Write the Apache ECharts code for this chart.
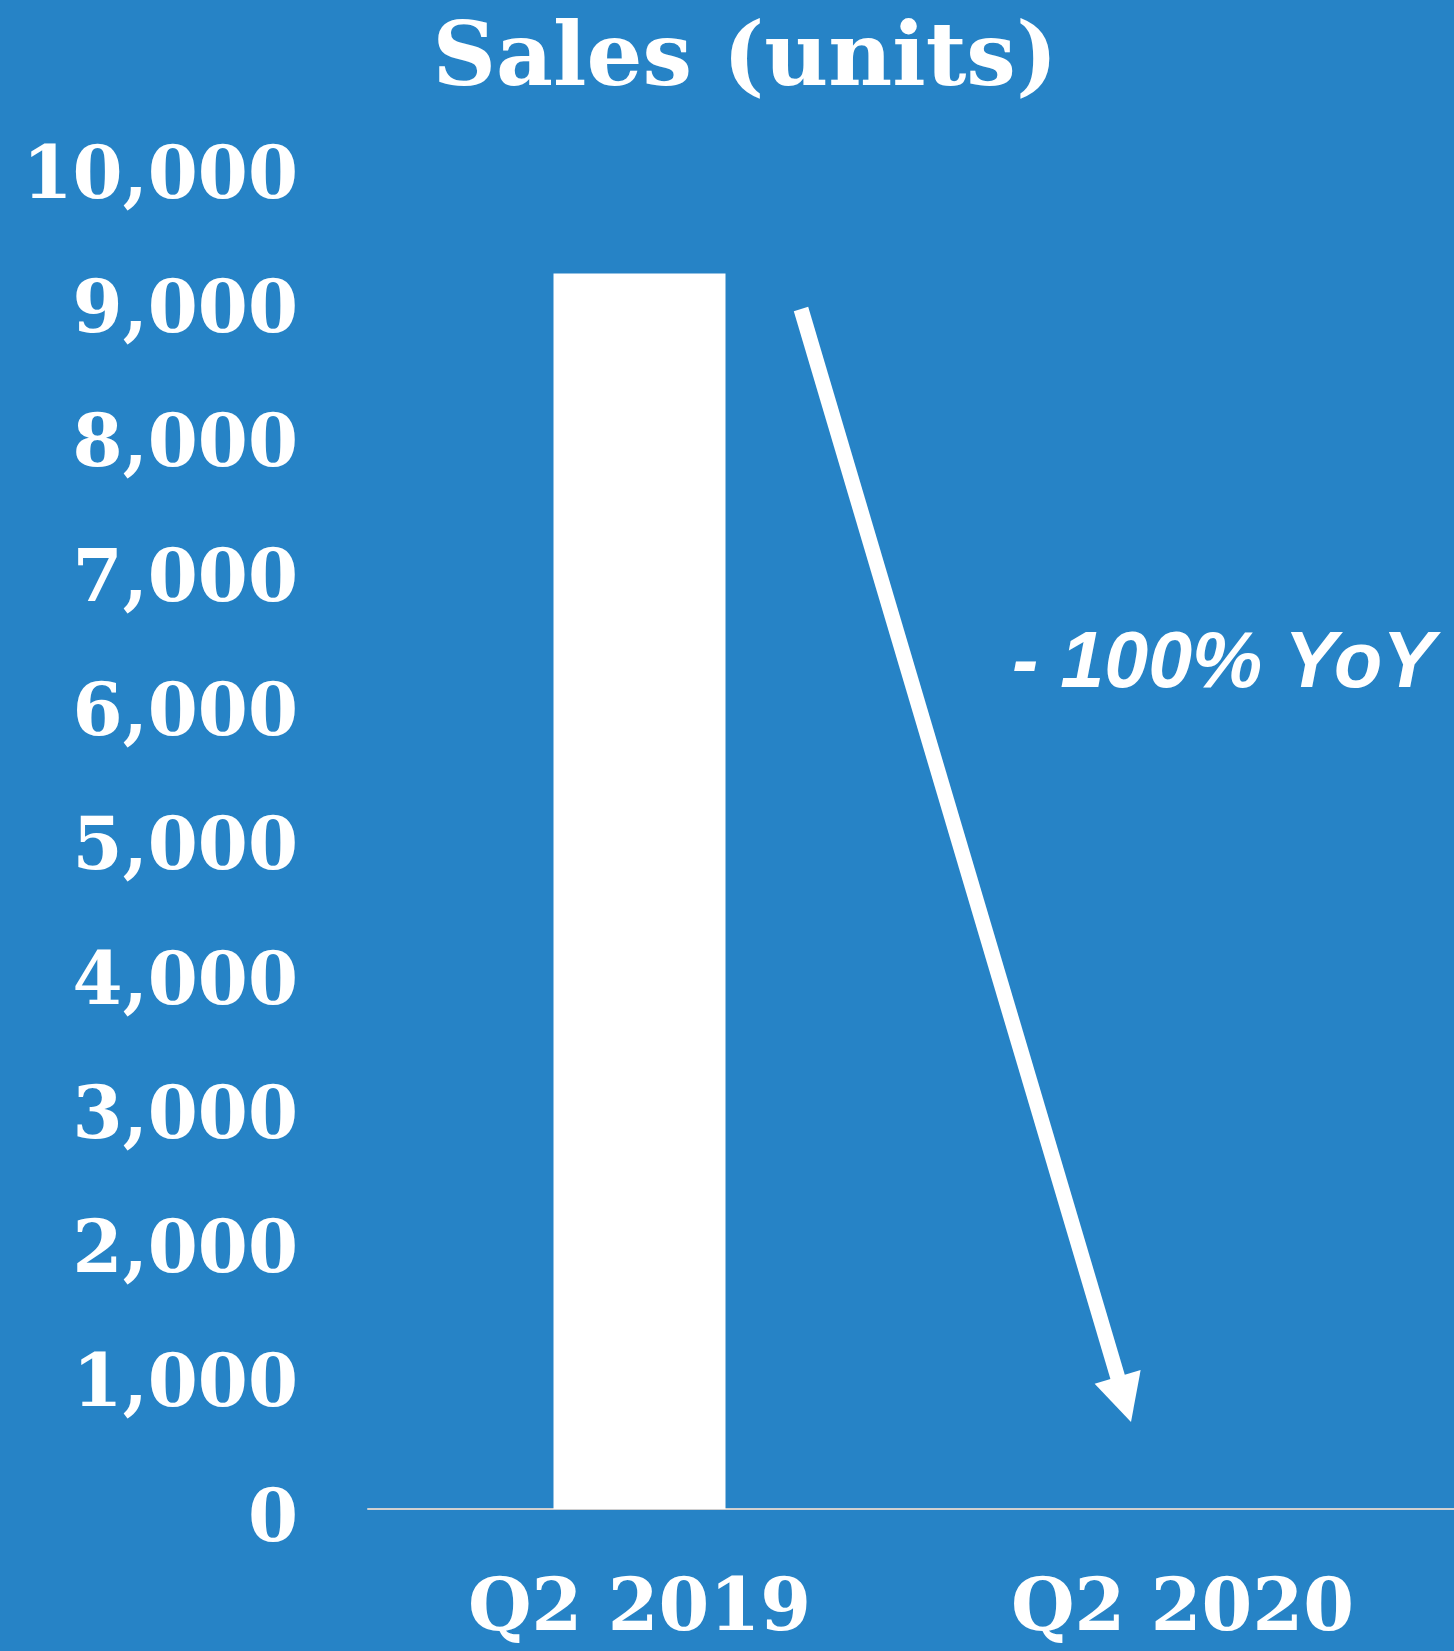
<!DOCTYPE html>
<html>
<head>
<meta charset="utf-8">
<title>Sales (units)</title>
<script src="https://cdn.jsdelivr.net/npm/echarts@6/dist/echarts.min.js"></script>
<style>
  html, body { margin: 0; padding: 0; background: #2683c6; }
  #chart { width: 1454px; height: 1651px; }
</style>
</head>
<body>
<div id="chart"></div>
<script>
// Quarterly unit sales
const categories = ['Q2 2019', 'Q2 2020'];
const sales = [9200, 0];
const yTicks = { min: 0, max: 10000, interval: 1000 };
const titleText = 'Sales (units)';
const changeLabel = '- 100% YoY';

const SERIF = '"DejaVu Serif", "Liberation Serif", serif';
const BG = '#2683c6';

const chart = echarts.init(document.getElementById('chart'), null, { renderer: 'canvas' });

const option = {
  backgroundColor: BG,
  animation: false,
  title: {
    text: titleText,
    left: 740,
    textAlign: 'center',
    top: 13,
    textStyle: { color: '#ffffff', fontFamily: SERIF, fontWeight: 'bold', fontSize: 88 }
  },
  grid: { left: 368, right: 0, top: 166, bottom: 142, containLabel: false },
  xAxis: {
    type: 'category',
    data: categories,
    axisLine: { show: true, lineStyle: { color: '#d0d0d0', width: 2 } },
    axisTick: { show: false },
    axisLabel: {
      color: '#ffffff', fontFamily: SERIF, fontWeight: 'bold', fontSize: 73, margin: 66
    }
  },
  yAxis: {
    type: 'value',
    min: yTicks.min,
    max: yTicks.max,
    interval: yTicks.interval,
    axisLine: { show: false },
    axisTick: { show: false },
    splitLine: { show: false },
    axisLabel: {
      color: '#ffffff', fontFamily: SERIF, fontWeight: 'bold', fontSize: 72, margin: 70,
      verticalAlign: 'top',
      lineHeight: 26,
      formatter: v => v.toLocaleString('en-US')
    }
  },
  series: [{
    type: 'bar',
    data: sales,
    barWidth: 172,
    itemStyle: { color: '#ffffff' }
  }]
};

chart.setOption(option);

// Downward trend arrow and its caption
const start = [801, 309];
const tip = [1131, 1422];
const headLen = 47, headHalf = 24;
const dx = tip[0] - start[0], dy = tip[1] - start[1];
const len = Math.hypot(dx, dy);
const ux = dx / len, uy = dy / len;
const base = [tip[0] - ux * headLen, tip[1] - uy * headLen];
const px = -uy, py = ux;

chart.setOption({
  graphic: [
    {
      type: 'polyline',
      shape: { points: [start, [base[0] + ux * 2, base[1] + uy * 2]] },
      style: { stroke: '#ffffff', lineWidth: 15, lineCap: 'butt', fill: null },
      silent: true
    },
    {
      type: 'polygon',
      shape: {
        points: [
          tip,
          [base[0] + px * headHalf, base[1] + py * headHalf],
          [base[0] - px * headHalf, base[1] - py * headHalf]
        ]
      },
      style: { fill: '#ffffff' },
      silent: true
    },
    {
      type: 'text',
      x: 1012,
      y: 665,
      style: {
        text: changeLabel,
        fill: '#ffffff',
        font: 'italic bold 79px "Liberation Sans", Arial, sans-serif',
        textAlign: 'left',
        textVerticalAlign: 'middle'
      },
      silent: true
    }
  ]
});
</script>
</body>
</html>
